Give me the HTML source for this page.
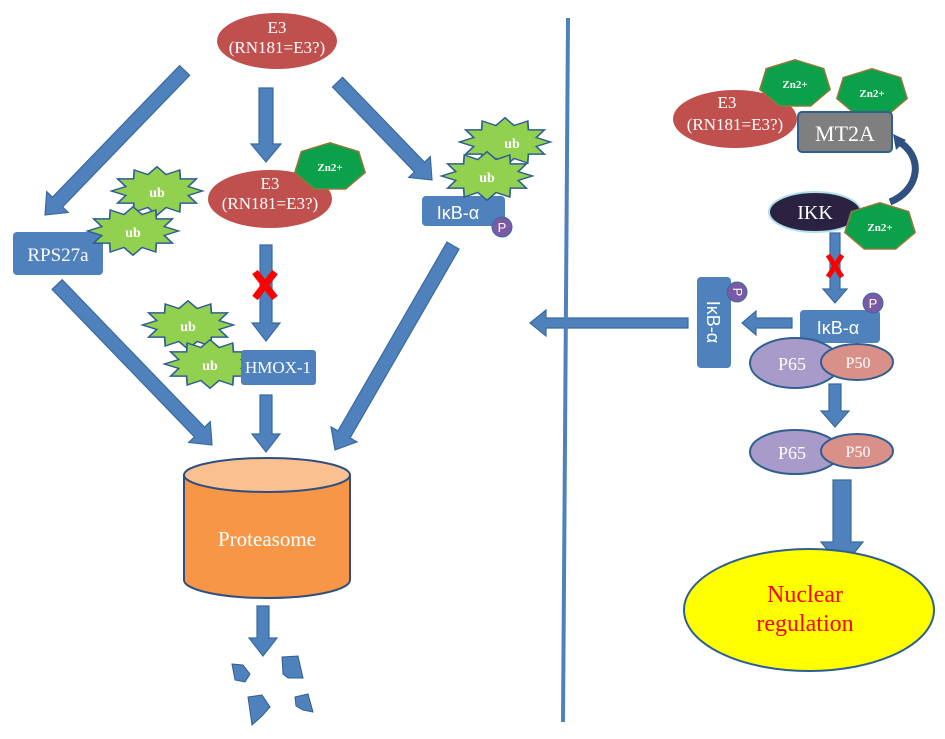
<!DOCTYPE html>
<html><head><meta charset="utf-8"><style>html,body{margin:0;padding:0;background:#fff}svg{display:block}</style></head>
<body>
<svg width="945" height="739" viewBox="0 0 945 739" xmlns="http://www.w3.org/2000/svg" font-family="Liberation Serif, serif">
<defs>
<polygon id="star" points="35,0 24,4 30.3,11 18,11 17.5,19.1 7,15 0,22 -7,15 -17.5,19.1 -18,11 -30.3,11 -24,4 -35,0 -24,-4 -30.3,-11 -18,-11 -17.5,-19.1 -7,-15 0,-22 7,-15 17.5,-19.1 18,-11 30.3,-11 24,-4" fill="#92d050" stroke="#2f5f92" stroke-width="1.3"/>
<polygon id="hep" points="0,-22 22,-14 27,5 12,20 -12,20 -27,5 -22,-14" fill="#0aa14a" stroke="#8c7a3a" stroke-width="1.3"/>
</defs>
<g fill="#4f81bd" stroke="#3a6a9e" stroke-width="1.2">
<g transform="translate(45,215) rotate(134)"><polygon points="-201,-7 -18,-7 -18,-15 0,0 -18,15 -18,7 -201,7"/></g>
<g transform="translate(266,162) rotate(90)"><polygon points="-74,-7 -18,-7 -18,-15 0,0 -18,15 -18,7 -74,7"/></g>
<g transform="translate(432,180) rotate(46)"><polygon points="-136,-7 -18,-7 -18,-15 0,0 -18,15 -18,7 -136,7"/></g>
<g transform="translate(266,341) rotate(90)"><polygon points="-96,-6 -18,-6 -18,-14 0,0 -18,14 -18,6 -96,6"/></g>
<g transform="translate(212,445) rotate(46)"><polygon points="-223,-7 -18,-7 -18,-15 0,0 -18,15 -18,7 -223,7"/></g>
<g transform="translate(266,452) rotate(90)"><polygon points="-57,-6 -18,-6 -18,-14 0,0 -18,14 -18,6 -57,6"/></g>
<g transform="translate(335,450) rotate(120)"><polygon points="-236,-7 -18,-7 -18,-15 0,0 -18,15 -18,7 -236,7"/></g>
<g transform="translate(263,656) rotate(90)"><polygon points="-50,-6 -18,-6 -18,-14 0,0 -18,14 -18,6 -50,6"/></g>
<g transform="translate(835,303) rotate(90)"><polygon points="-70,-5 -14,-5 -14,-12 0,0 -14,12 -14,5 -70,5"/></g>
<g transform="translate(742,323) rotate(180)"><polygon points="-50,-5 -14,-5 -14,-12 0,0 -14,12 -14,5 -50,5"/></g>
<g transform="translate(530,323) rotate(180)"><polygon points="-158,-5 -16,-5 -16,-13 0,0 -16,13 -16,5 -158,5"/></g>
<g transform="translate(835,427) rotate(90)"><polygon points="-43,-6 -16,-6 -16,-14 0,0 -16,14 -16,6 -43,6"/></g>
<g transform="translate(842,568) rotate(90)"><polygon points="-88,-9 -26,-9 -26,-21 0,0 -26,21 -26,9 -88,9"/></g>
</g>
<line x1="568" y1="18" x2="563" y2="722" stroke="#4f81bd" stroke-width="4"/>
<ellipse cx="277" cy="41" rx="60" ry="28" fill="#c0504d"/>
<text x="277" y="33" text-anchor="middle" font-size="17" fill="#fff">E3</text>
<text x="277" y="53" text-anchor="middle" font-size="17" fill="#fff">(RN181=E3?)</text>
<ellipse cx="270" cy="199" rx="62" ry="29" fill="#c0504d"/>
<text x="270" y="189" text-anchor="middle" font-size="17" fill="#fff">E3</text>
<text x="270" y="209" text-anchor="middle" font-size="17" fill="#fff">(RN181=E3?)</text>
<use href="#hep" transform="translate(330,167) scale(1.3,1.1)"/>
<text x="330" y="171" text-anchor="middle" font-size="11" font-weight="bold" fill="#fff">Zn2+</text>
<rect x="13" y="232" width="90" height="43" rx="4" fill="#4f81bd"/>
<text x="58" y="261" text-anchor="middle" font-size="19" fill="#fff">RPS27a</text>
<use href="#star" transform="translate(157,191) scale(1.3,1.1)"/><text x="157" y="197" text-anchor="middle" font-size="14" font-weight="bold" fill="#fff">ub</text>
<use href="#star" transform="translate(133,231) scale(1.3,1.1)"/><text x="133" y="237" text-anchor="middle" font-size="14" font-weight="bold" fill="#fff">ub</text>
<rect x="422" y="196" width="83" height="30" rx="4" fill="#4f81bd"/>
<text x="458" y="219" text-anchor="middle" font-size="18" font-family="Liberation Sans, sans-serif" fill="#fff">IκB-α</text>
<use href="#star" transform="translate(505,142) scale(1.3,1.1)"/><text x="512" y="148" text-anchor="middle" font-size="14" font-weight="bold" fill="#fff">ub</text>
<use href="#star" transform="translate(487,176) scale(1.3,1.1)"/><text x="487" y="182" text-anchor="middle" font-size="14" font-weight="bold" fill="#fff">ub</text>
<circle cx="502" cy="227" r="10" fill="#7a5aa6" stroke="#3a6a9e"/>
<text x="502" y="232" text-anchor="middle" font-size="13" font-family="Liberation Sans, sans-serif" fill="#fff">P</text>
<g stroke="#ff0000" stroke-width="7"><line x1="255" y1="272" x2="275" y2="298"/><line x1="275" y1="272" x2="255" y2="298"/></g>
<use href="#star" transform="translate(188,325) scale(1.3,1.1)"/><text x="188" y="331" text-anchor="middle" font-size="14" font-weight="bold" fill="#fff">ub</text>
<use href="#star" transform="translate(210,364) scale(1.3,1.1)"/><text x="210" y="370" text-anchor="middle" font-size="14" font-weight="bold" fill="#fff">ub</text>
<rect x="241" y="350" width="75" height="35" rx="3" fill="#4f81bd"/>
<text x="278" y="373" text-anchor="middle" font-size="17" fill="#fff">HMOX-1</text>
<path d="M184,475 L184,580 A83,18 0 0 0 350,580 L350,475 Z" fill="#f79646" stroke="#2f4f7f" stroke-width="2"/>
<ellipse cx="267" cy="475" rx="83" ry="17" fill="#fac090" stroke="#2f4f7f" stroke-width="2"/>
<text x="267" y="546" text-anchor="middle" font-size="21" fill="#fff">Proteasome</text>
<g fill="#4f81bd" stroke="#2f5f92">
<path d="M232,664 L243,665 L250,674 L245,682 L235,680 Z"/>
<path d="M282,657 L298,656 L303,678 L288,678 L283,674 Z"/>
<path d="M248,697 L262,695 L270,707 L262,716 L252,725 Z"/>
<path d="M295,697 L308,694 L313,712 L303,710 L296,706 Z"/>
</g>
<ellipse cx="735" cy="119" rx="62" ry="29" fill="#c0504d"/>
<text x="727" y="108" text-anchor="middle" font-size="17" fill="#fff">E3</text>
<text x="735" y="130" text-anchor="middle" font-size="17" fill="#fff">(RN181=E3?)</text>
<use href="#hep" transform="translate(795,84) scale(1.3,1.1)"/><text x="795" y="88" text-anchor="middle" font-size="11" font-weight="bold" fill="#fff">Zn2+</text>
<use href="#hep" transform="translate(872,93) scale(1.3,1.1)"/><text x="872" y="97" text-anchor="middle" font-size="11" font-weight="bold" fill="#fff">Zn2+</text>
<rect x="798" y="112" width="94" height="40" rx="4" fill="#7f7f7f" stroke="#2f5f92" stroke-width="2"/>
<text x="845" y="141" text-anchor="middle" font-size="22" fill="#fff">MT2A</text>
<path d="M890,202 C920,190 925,155 896,140" fill="none" stroke="#2f5080" stroke-width="7"/>
<polygon points="893,134 906,140 896,150" fill="#2f5080"/>
<ellipse cx="815" cy="212" rx="46" ry="20" fill="#2a2240" stroke="#aee0ee" stroke-width="2"/>
<text x="815" y="219" text-anchor="middle" font-size="20" fill="#fff">IKK</text>
<use href="#hep" transform="translate(880,227) scale(1.3,1.1)"/><text x="880" y="231" text-anchor="middle" font-size="11" font-weight="bold" fill="#fff">Zn2+</text>
<g stroke="#ff0000" stroke-width="5"><line x1="828" y1="255" x2="842" y2="277"/><line x1="842" y1="255" x2="828" y2="277"/></g>
<rect x="800" y="310" width="80" height="33" rx="4" fill="#4f81bd"/>
<text x="838" y="334" text-anchor="middle" font-size="18" font-family="Liberation Sans, sans-serif" fill="#fff">IκB-α</text>
<circle cx="873" cy="303" r="10" fill="#7a5aa6" stroke="#3a6a9e"/>
<text x="873" y="308" text-anchor="middle" font-size="13" font-family="Liberation Sans, sans-serif" fill="#fff">P</text>
<ellipse cx="795" cy="363" rx="45" ry="25" fill="#a99bc9" stroke="#2f5f92" stroke-width="2"/>
<ellipse cx="857" cy="362" rx="36" ry="18" fill="#d99088" stroke="#2f5f92" stroke-width="2"/>
<text x="792" y="370" text-anchor="middle" font-size="18" fill="#fff">P65</text>
<text x="858" y="368" text-anchor="middle" font-size="16" fill="#fff">P50</text>
<rect x="697" y="277" width="34" height="91" rx="4" fill="#4f81bd"/>
<text transform="translate(707,322) rotate(90)" text-anchor="middle" font-size="18" font-family="Liberation Sans, sans-serif" fill="#fff">IκB-α</text>
<circle cx="737" cy="292" r="10" fill="#7a5aa6" stroke="#3a6a9e"/>
<text transform="translate(733,292) rotate(90)" text-anchor="middle" font-size="13" font-family="Liberation Sans, sans-serif" fill="#fff">P</text>
<ellipse cx="795" cy="452" rx="45" ry="22" fill="#a99bc9" stroke="#2f5f92" stroke-width="2"/>
<ellipse cx="857" cy="451" rx="36" ry="17" fill="#d99088" stroke="#2f5f92" stroke-width="2"/>
<text x="792" y="459" text-anchor="middle" font-size="18" fill="#fff">P65</text>
<text x="858" y="457" text-anchor="middle" font-size="16" fill="#fff">P50</text>
<ellipse cx="809" cy="610" rx="125" ry="61" fill="#ffff00" stroke="#2f5f92" stroke-width="2"/>
<text x="805" y="602" text-anchor="middle" font-size="24" fill="#ff0000">Nuclear</text>
<text x="805" y="631" text-anchor="middle" font-size="24" fill="#ff0000">regulation</text>
</svg>
</body></html>
